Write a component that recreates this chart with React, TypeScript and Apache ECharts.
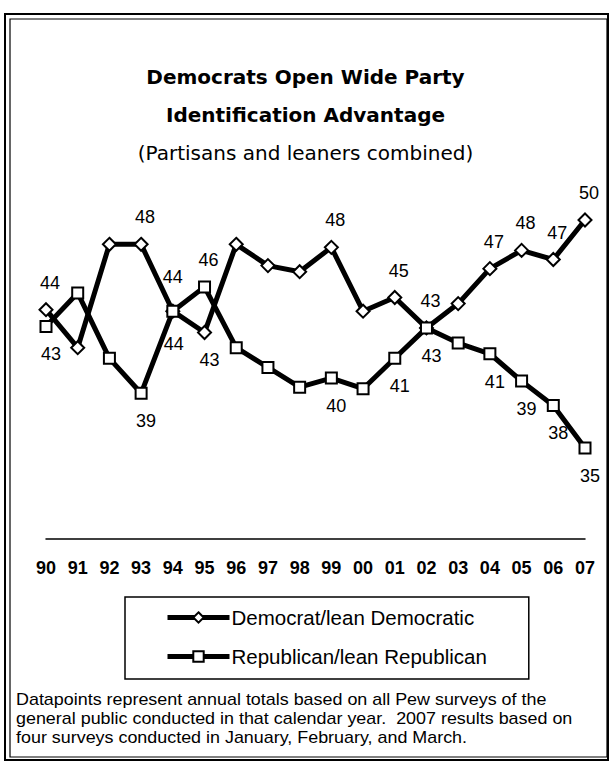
import React, { useEffect, useRef } from "react";
import * as echarts from "echarts";

const years = ["90", "91", "92", "93", "94", "95", "96", "97", "98", "99", "00", "01", "02", "03", "04", "05", "06", "07"];
const democrat = [44.1, 41.6, 48.4, 48.4, 44.0, 42.6, 48.4, 47.0, 46.6, 48.2, 44.0, 44.9, 42.9, 44.5, 46.8, 48.0, 47.4, 50.0];
const republican = [43.0, 45.2, 40.9, 38.6, 44.0, 45.6, 41.6, 40.3, 39.0, 39.6, 38.9, 40.9, 42.9, 41.9, 41.2, 39.4, 37.8, 35.0];
const demLabelled = ["90", "93", "94", "95", "99", "01", "02", "04", "05", "06", "07"];
const repLabelled = ["90", "93", "94", "95", "99", "01", "02", "04", "05", "06", "07"];
const demBelow = ["95"];
const repAbove = ["95"];
const titleLines = ["Democrats Open Wide Party", "Identification Advantage"];
const subtitle = "(Partisans and leaners combined)";
const seriesNames = ["Democrat/lean Democratic", "Republican/lean Republican"];
const footnote = [
  "Datapoints represent annual totals based on all Pew surveys of the",
  "general public conducted in that calendar year.  2007 results based on",
  "four surveys conducted in January, February, and March.",
];

const LABEL_FONT = "Liberation Sans";

function buildData(values: number[], labelled: string[], flipped: string[], defaultAbove: boolean) {
  return values.map((v, i) => {
    const yr = years[i];
    if (!labelled.includes(yr)) return v;
    const above = flipped.includes(yr) ? !defaultAbove : defaultAbove;
    const cross = yr === "94";
    const offset = above ? [cross ? 0 : 4, cross ? -34 : -27] : [cross ? 1 : 5, cross ? 33 : 28];
    return {
      value: v,
      label: {
        show: true,
        position: "inside",
        offset,
        align: "center",
        verticalAlign: "middle",
        formatter: (p: any) => String(Math.round(p.value)),
        fontFamily: LABEL_FONT,
        fontSize: 18,
        color: "#000",
      },
    };
  });
}

export default function App() {
  const ref = useRef<HTMLDivElement>(null);
  useEffect(() => {
    if (!ref.current) return;
    const chart = echarts.init(ref.current, null, { renderer: "svg" });
    chart.setOption({
      animation: false,
      backgroundColor: "#fff",
      title: {
        text: titleLines.join("\n"),
        subtext: subtitle,
        left: "center",
        top: 53,
        itemGap: 8,
        textStyle: { fontFamily: "DejaVu Sans", fontWeight: "bold", fontSize: 20, lineHeight: 38, color: "#000" },
        subtextStyle: { fontFamily: "DejaVu Sans", fontSize: 20, lineHeight: 22, color: "#000" },
      },
      legend: {
        orient: "vertical",
        left: 125,
        top: 597,
        padding: [10, 42, 12, 40],
        itemGap: 18,
        itemWidth: 62,
        itemHeight: 13,
        borderColor: "#000",
        borderWidth: 1.5,
        lineStyle: { color: "#000", width: 5 },
        textStyle: { fontFamily: LABEL_FONT, fontSize: 20.5, lineHeight: 21, color: "#000", padding: [0, 0, 0, -3] },
        data: seriesNames,
      },
      grid: { left: 46, right: 26, top: 128.8, height: 410.4 },
      xAxis: {
        type: "category",
        boundaryGap: false,
        data: years,
        axisLine: { lineStyle: { color: "#000", width: 1.5 } },
        axisTick: { show: false },
        axisLabel: { margin: 20, fontFamily: LABEL_FONT, fontSize: 18, fontWeight: "bold", color: "#000", interval: 0 },
      },
      yAxis: { type: "value", min: 29, max: 56, show: false, splitLine: { show: false } },
      series: [
        {
          name: seriesNames[0],
          type: "line",
          data: buildData(democrat, demLabelled, demBelow, true),
          symbol: "diamond",
          symbolSize: 13,
          lineStyle: { color: "#000", width: 5 },
          itemStyle: { color: "#fff", borderColor: "#000", borderWidth: 2 },
          emphasis: { disabled: true },
        },
        {
          name: seriesNames[1],
          type: "line",
          data: buildData(republican, repLabelled, repAbove, false),
          symbol: "rect",
          symbolSize: 11,
          lineStyle: { color: "#000", width: 5 },
          itemStyle: { color: "#fff", borderColor: "#000", borderWidth: 2 },
          emphasis: { disabled: true },
        },
      ],
      graphic: [
        { type: "rect", shape: { x: 5, y: 14, width: 603, height: 746 }, style: { fill: "none", stroke: "#000", lineWidth: 2 }, silent: true },
        { type: "rect", shape: { x: 10, y: 19, width: 597, height: 738 }, style: { fill: "none", stroke: "#000", lineWidth: 1.2 }, silent: true },
        {
          type: "text",
          x: 16,
          y: 690,
          scaleX: 1.12,
          style: {
            text: footnote.join("\n"),
            fontFamily: LABEL_FONT,
            fontSize: 16,
            lineHeight: 19,
            fill: "#000",
            verticalAlign: "top",
          },
          silent: true,
        },
      ],
    });
    return () => chart.dispose();
  }, []);
  return <div ref={ref} style={{ position: "absolute", left: 0, top: 0, width: 611, height: 772 }} />;
}
